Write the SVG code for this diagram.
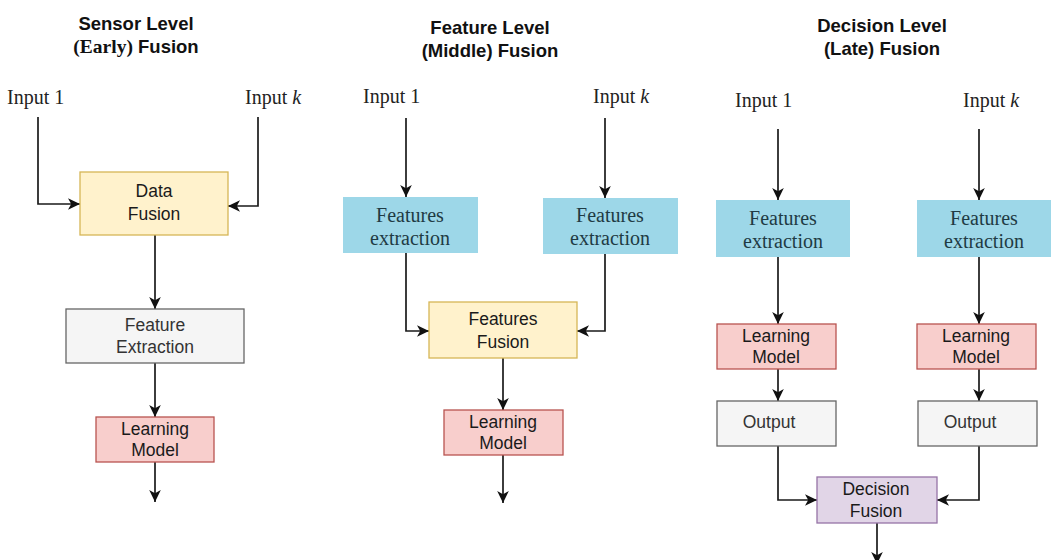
<svg xmlns="http://www.w3.org/2000/svg" width="1052" height="560" viewBox="0 0 1052 560">
  <style>
    .title { font-family: "Liberation Sans", Arial, sans-serif; font-weight: bold; font-size: 18.5px; fill: #111; text-anchor: middle; }
    .serifb { font-family: "Liberation Serif", "Times New Roman", serif; font-weight: bold; }
    .input { font-family: "Liberation Serif", "Times New Roman", serif; font-size: 20px; fill: #222; }
    .lbl { font-family: "Liberation Sans", Arial, sans-serif; font-size: 17.5px; fill: #1a1a1a; text-anchor: middle; }
    .lbl-grey { fill: #333; }
    .slbl { font-family: "Liberation Serif", "Times New Roman", serif; font-size: 20px; fill: #1f3b44; text-anchor: middle; }
    .yellow { fill: #FFF2CC; stroke: #D6B656; stroke-width: 1.3; }
    .grey { fill: #F5F5F5; stroke: #666666; stroke-width: 1.3; }
    .red { fill: #F8CECC; stroke: #B85450; stroke-width: 1.3; }
    .purple { fill: #E1D5E7; stroke: #9673A6; stroke-width: 1.3; }
    .blue { fill: #9DD7E8; }
    .edge { fill: none; stroke: #1a1a1a; stroke-width: 1.7; marker-end: url(#arrow); }
  </style>
  <defs>
    <marker id="arrow" markerUnits="userSpaceOnUse" markerWidth="14" markerHeight="14" viewBox="0 0 14 14" refX="13" refY="7" orient="auto">
      <path d="M1,1.2 L13,7 L1,12.8 L4.2,7 Z" fill="#111"/>
    </marker>
  </defs>

  <rect width="1052" height="560" fill="#ffffff"/>

  <!-- Column titles -->
  <g id="titles">
    <text class="title" x="136" y="30">Sensor Level</text>
    <text class="title" x="136" y="53"><tspan class="serifb" font-size="19.5">(Early)</tspan> Fusion</text>
    <text class="title" x="490" y="34">Feature Level</text>
    <text class="title" x="490" y="57">(Middle) Fusion</text>
    <text class="title" x="882" y="32">Decision Level</text>
    <text class="title" x="882" y="55">(Late) Fusion</text>
  </g>

  <!-- Inputs -->
  <g id="inputs">
    <text class="input" x="7" y="104" font-size="23">Input 1</text>
    <text class="input" x="245" y="104" font-size="23">Input <tspan font-style="italic">k</tspan></text>
    <text class="input" x="363" y="103">Input 1</text>
    <text class="input" x="593" y="103">Input <tspan font-style="italic">k</tspan></text>
    <text class="input" x="735" y="107">Input 1</text>
    <text class="input" x="963" y="107">Input <tspan font-style="italic">k</tspan></text>
  </g>

  <!-- Connectors -->
  <g id="connectors">
    <!-- sensor level -->
    <path class="edge" d="M38,117 V204 H80"/>
    <path class="edge" d="M258,117 V206 H228"/>
    <path class="edge" d="M155,235 V309"/>
    <path class="edge" d="M155,363 V417"/>
    <path class="edge" d="M155,462 V502"/>
    <!-- feature level -->
    <path class="edge" d="M406,118 V197"/>
    <path class="edge" d="M605,118 V198"/>
    <path class="edge" d="M406,253 V331 H429"/>
    <path class="edge" d="M605,254 V331 H577"/>
    <path class="edge" d="M503,358 V410"/>
    <path class="edge" d="M503,455 V503"/>
    <!-- decision level -->
    <path class="edge" d="M778,129 V200"/>
    <path class="edge" d="M979,129 V200"/>
    <path class="edge" d="M778,257 V324"/>
    <path class="edge" d="M979,257 V324"/>
    <path class="edge" d="M778,369 V401"/>
    <path class="edge" d="M979,369 V401"/>
    <path class="edge" d="M778,446 V500 H817"/>
    <path class="edge" d="M979,446 V500 H937"/>
    <path class="edge" d="M877,523 V564"/>
  </g>

  <!-- Sensor level nodes -->
  <g id="data-fusion">
    <rect class="yellow" x="80" y="172" width="148" height="63"/>
    <text class="lbl" x="154" y="197">Data</text>
    <text class="lbl" x="154" y="220">Fusion</text>
  </g>
  <g id="feature-extraction">
    <rect class="grey" x="66" y="309" width="178" height="54"/>
    <text class="lbl lbl-grey" x="155" y="331">Feature</text>
    <text class="lbl lbl-grey" x="155" y="353">Extraction</text>
  </g>
  <g id="learning-model-early">
    <rect class="red" x="96" y="417" width="118" height="45"/>
    <text class="lbl" x="155" y="435">Learning</text>
    <text class="lbl" x="155" y="456">Model</text>
  </g>

  <!-- Feature level nodes -->
  <g id="features-extraction-mid-1">
    <rect class="blue" x="343" y="197" width="135" height="56"/>
    <text class="slbl" x="410" y="222">Features</text>
    <text class="slbl" x="410" y="245">extraction</text>
  </g>
  <g id="features-extraction-mid-k">
    <rect class="blue" x="543" y="198" width="135" height="56"/>
    <text class="slbl" x="610" y="222">Features</text>
    <text class="slbl" x="610" y="245">extraction</text>
  </g>
  <g id="features-fusion">
    <rect class="yellow" x="429" y="302" width="148" height="56"/>
    <text class="lbl" x="503" y="325">Features</text>
    <text class="lbl" x="503" y="348">Fusion</text>
  </g>
  <g id="learning-model-mid">
    <rect class="red" x="444" y="410" width="119" height="45"/>
    <text class="lbl" x="503" y="428">Learning</text>
    <text class="lbl" x="503" y="449">Model</text>
  </g>

  <!-- Decision level nodes -->
  <g id="features-extraction-late-1">
    <rect class="blue" x="716" y="200" width="134" height="57"/>
    <text class="slbl" x="783" y="225">Features</text>
    <text class="slbl" x="783" y="248">extraction</text>
  </g>
  <g id="features-extraction-late-k">
    <rect class="blue" x="917" y="200" width="134" height="57"/>
    <text class="slbl" x="984" y="225">Features</text>
    <text class="slbl" x="984" y="248">extraction</text>
  </g>
  <g id="learning-model-late-1">
    <rect class="red" x="717" y="324" width="119" height="45"/>
    <text class="lbl" x="776" y="342">Learning</text>
    <text class="lbl" x="776" y="363">Model</text>
  </g>
  <g id="learning-model-late-k">
    <rect class="red" x="917" y="324" width="119" height="45"/>
    <text class="lbl" x="976" y="342">Learning</text>
    <text class="lbl" x="976" y="363">Model</text>
  </g>
  <g id="output-1">
    <rect class="grey" x="717" y="401" width="119" height="45"/>
    <text class="lbl lbl-grey" x="769" y="428">Output</text>
  </g>
  <g id="output-k">
    <rect class="grey" x="918" y="401" width="119" height="45"/>
    <text class="lbl lbl-grey" x="970" y="428">Output</text>
  </g>
  <g id="decision-fusion">
    <rect class="purple" x="817" y="477" width="120" height="46"/>
    <text class="lbl" x="876" y="495">Decision</text>
    <text class="lbl" x="876" y="517">Fusion</text>
  </g>
</svg>
